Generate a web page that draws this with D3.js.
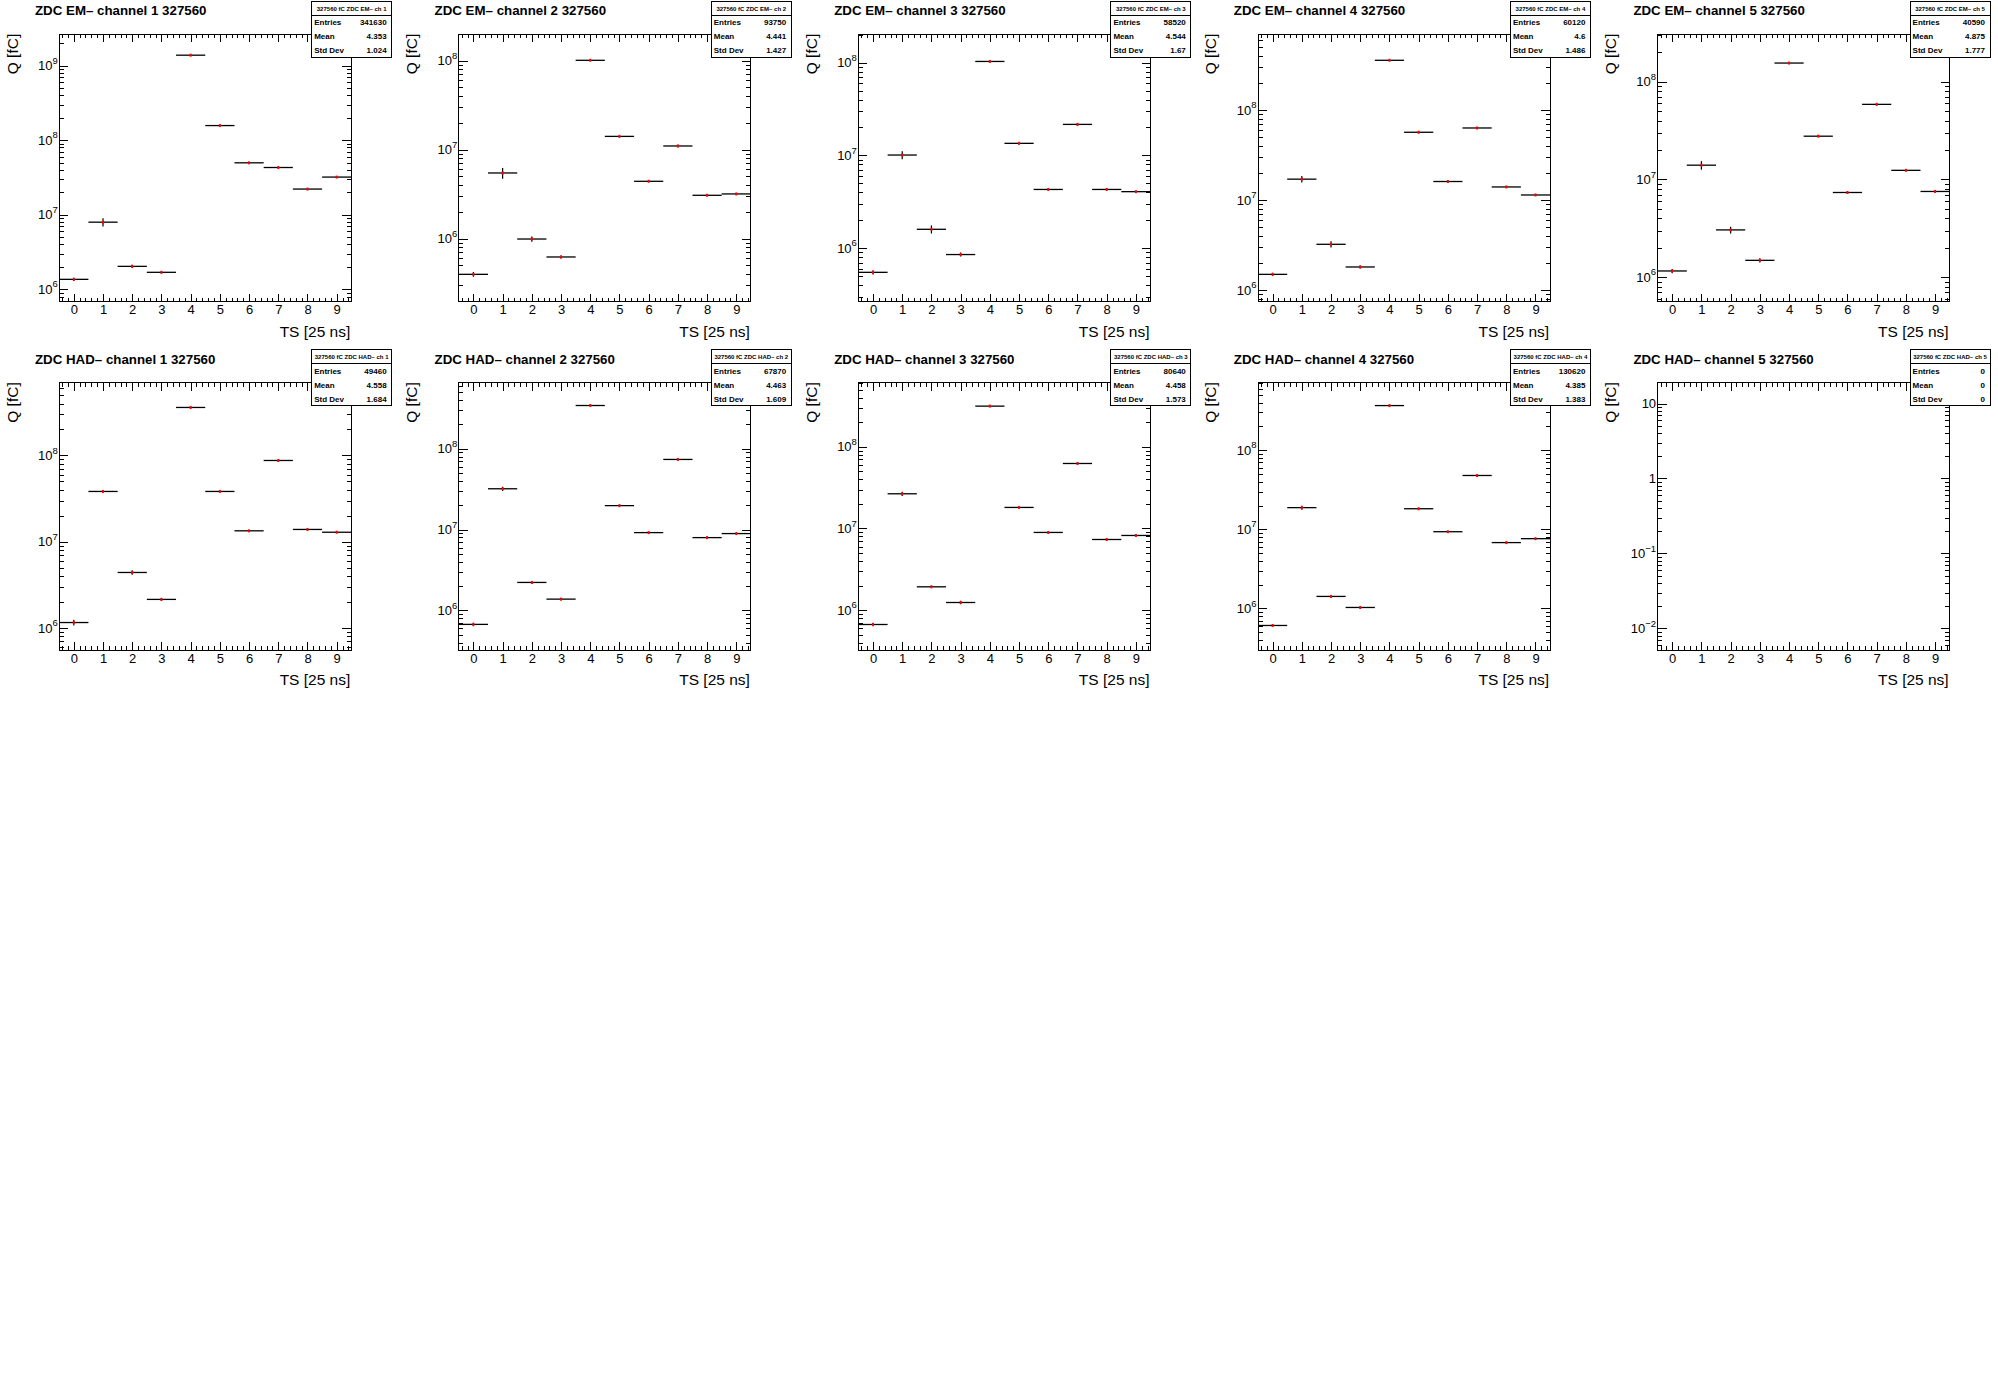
<!DOCTYPE html>
<html>
<head>
<meta charset="utf-8">
<script src="https://cdn.jsdelivr.net/npm/d3@7"></script>
<style>
  body { margin: 0; background: #fff; }
  text { font-family: "Liberation Sans", Arial, Helvetica, sans-serif; }
</style>
</head>
<body>
<div id="canvas"></div>
<script>
// run number and time slices
var run = "327560";
var tsBins = [0, 1, 2, 3, 4, 5, 6, 7, 8, 9];
var xTickLabels = ["0", "1", "2", "3", "4", "5", "6", "7", "8", "9"];

// charge per time slice [fC]
var emCh1 = [1.36e6, 7.95e6, 2.03e6, 1.69e6, 1.38e9, 1.57e8, 4.97e7, 4.3e7, 2.21e7, 3.2e7];
var emCh2 = [3.97e5, 5.47e6, 9.9e5, 6.22e5, 1.01e8, 1.41e7, 4.41e6, 1.1e7, 3.07e6, 3.18e6];
var emCh3 = [5.5e5, 1.01e7, 1.6e6, 8.55e5, 1.03e8, 1.35e7, 4.3e6, 2.16e7, 4.3e6, 4.07e6];
var emCh4 = [1.49e6, 1.71e7, 3.22e6, 1.8e6, 3.6e8, 5.69e7, 1.61e7, 6.35e7, 1.4e7, 1.14e7];
var emCh5 = [1.16e6, 1.4e7, 3.05e6, 1.49e6, 1.55e8, 2.77e7, 7.36e6, 5.86e7, 1.24e7, 7.54e6];
var hadCh1 = [1.16e6, 3.83e7, 4.41e6, 2.15e6, 3.6e8, 3.83e7, 1.34e7, 8.75e7, 1.39e7, 1.29e7];
var hadCh2 = [6.72e5, 3.2e7, 2.22e6, 1.38e6, 3.43e8, 1.98e7, 9.18e6, 7.38e7, 7.96e6, 8.93e6];
var hadCh3 = [6.67e5, 2.66e7, 1.93e6, 1.24e6, 3.15e8, 1.81e7, 8.94e6, 6.25e7, 7.33e6, 8.21e6];
var hadCh4 = [6.1e5, 1.88e7, 1.42e6, 1.03e6, 3.66e8, 1.82e7, 9.33e6, 4.79e7, 6.8e6, 7.62e6];
var hadCh5 = []; // no entries

// error bars (absolute, fC)
var emCh1Err = [7e4, 1.0e6, 1.0e5, 5e4, 1.4e7, 1.6e6, 5e5, 4.3e5, 2.2e5, 3.2e5];
var emCh2Err = [2.4e4, 7.7e5, 7e4, 2.5e4, 1e6, 2.8e5, 9e4, 3.3e5, 6e4, 6e4];
var emCh3Err = [2.8e4, 1e6, 1.6e5, 4.3e4, 1e6, 2.7e5, 9e4, 6.5e5, 9e4, 8e4];
var emCh4Err = [6e4, 1.4e6, 2.6e5, 7e4, 3.6e6, 1.1e6, 3.2e5, 1.3e6, 2.8e5, 2.3e5];
var emCh5Err = [5.8e4, 1.4e6, 2.4e5, 7.5e4, 1.6e6, 5.5e5, 1.5e5, 1.2e6, 2.5e5, 1.5e5];
var hadCh1Err = [9e4, 1.1e6, 2.6e5, 8.6e4, 3.6e6, 7.7e5, 2.7e5, 1.8e6, 2.8e5, 2.6e5];
var hadCh2Err = [3.4e4, 1.9e6, 9e4, 4e4, 3.4e6, 2e5, 1.8e5, 1.5e6, 1.6e5, 1.8e5];
var hadCh3Err = [3.3e4, 1.6e6, 6e4, 6e4, 3.2e6, 1.8e5, 1.8e5, 1.2e6, 1.5e5, 1.6e5];
var hadCh4Err = [1.8e4, 1.1e6, 4.3e4, 3e4, 3.7e6, 1.8e5, 9e4, 4.8e5, 1.4e5, 1.5e5];
var hadCh5Err = [];

// y range of each pad (log axis)
var yLow  = [6.84e5, 1.96e5, 2.66e5, 7.41e5, 5.64e5, 5.56e5, 3.23e5, 3.24e5, 2.98e5, 5.14e-3];
var yHigh = [2.63e9, 1.98e8, 2.02e8, 7.01e8, 3.05e8, 6.95e8, 6.55e8, 6.08e8, 7.1e8, 18.9];

// stats boxes
var statEntries = ["341630", "93750", "58520", "60120", "40590", "49460", "67870", "80640", "130620", "0"];
var statMean    = ["4.353", "4.441", "4.544", "4.6", "4.875", "4.558", "4.463", "4.458", "4.385", "0"];
var statStd     = ["1.024", "1.427", "1.67", "1.486", "1.777", "1.684", "1.609", "1.573", "1.383", "0"];

var detectors = ["EM", "EM", "EM", "EM", "EM", "HAD", "HAD", "HAD", "HAD", "HAD"];
var channels  = [1, 2, 3, 4, 5, 1, 2, 3, 4, 5];
var series    = [emCh1, emCh2, emCh3, emCh4, emCh5, hadCh1, hadCh2, hadCh3, hadCh4, hadCh5];
var errors    = [emCh1Err, emCh2Err, emCh3Err, emCh4Err, emCh5Err, hadCh1Err, hadCh2Err, hadCh3Err, hadCh4Err, hadCh5Err];

var W = 1998, H = 1394;
var nCol = 5, nRow = 4;
var padW = W / nCol, padH = H / nRow;

var svg = d3.select("#canvas").append("svg")
    .attr("width", W).attr("height", H)
    .style("display", "block")
    .style("background", "#fff");

function supLabel(sel, n) {
  if (n === 0) { sel.text("1"); return; }
  if (n === 1) { sel.text("10"); return; }
  sel.append("tspan").text("10");
  sel.append("tspan").attr("font-size", 9.5).attr("dy", -6.5)
     .text(n < 0 ? "\u2212" + (-n) : String(n));
}

function drawPad(i) {
  var col = i % nCol, row = Math.floor(i / nCol);
  var px = col * padW, py = row * padH;
  var fx0 = px + 59.2, fx1 = px + 351.3;
  var fy0 = py + 34.3, fy1 = py + 301.6;

  var g = svg.append("g");

  var x = d3.scaleLinear().domain([-0.5, 9.5]).range([fx0, fx1]);
  var y = d3.scaleLog().domain([yLow[i], yHigh[i]]).range([fy1, fy0]);

  // tick positions
  var xMinor = d3.range(-0.4, 9.5, 0.2).filter(function(v) { return Math.abs(v - Math.round(v)) > 0.01; });
  var lo = Math.log10(yLow[i]), hi = Math.log10(yHigh[i]);
  var yMajor = [], yMinor = [];
  for (var n = Math.floor(lo); n <= Math.ceil(hi); n++) {
    var p = Math.pow(10, n);
    if (p >= yLow[i] && p <= yHigh[i]) yMajor.push(p);
    for (var k = 2; k <= 9; k++) {
      var v = k * p;
      if (v >= yLow[i] && v <= yHigh[i]) yMinor.push(v);
    }
  }

  function clean(a) {
    a.select(".domain").remove();
    a.selectAll("line").attr("stroke", "#000").attr("shape-rendering", "crispEdges");
  }

  // bottom axis with labels
  var xb = g.append("g").attr("transform", "translate(0," + fy1 + ")")
    .call(d3.axisBottom(x).tickValues(tsBins).tickSize(-8).tickPadding(3.3)
      .tickFormat(function(d) { return xTickLabels[d]; }));
  clean(xb);
  xb.selectAll("text").attr("font-size", 13).attr("font-family", "Liberation Sans, Arial, sans-serif").attr("fill", "#000");
  clean(g.append("g").attr("transform", "translate(0," + fy1 + ")")
    .call(d3.axisBottom(x).tickValues(xMinor).tickSize(-4).tickFormat("")));
  // top axis
  clean(g.append("g").attr("transform", "translate(0," + fy0 + ")")
    .call(d3.axisTop(x).tickValues(tsBins).tickSize(-8).tickFormat("")));
  clean(g.append("g").attr("transform", "translate(0," + fy0 + ")")
    .call(d3.axisTop(x).tickValues(xMinor).tickSize(-4).tickFormat("")));
  // left / right axes
  clean(g.append("g").attr("transform", "translate(" + fx0 + ",0)")
    .call(d3.axisLeft(y).tickValues(yMajor).tickSize(-9).tickFormat("")));
  clean(g.append("g").attr("transform", "translate(" + fx0 + ",0)")
    .call(d3.axisLeft(y).tickValues(yMinor).tickSize(-4.5).tickFormat("")));
  clean(g.append("g").attr("transform", "translate(" + fx1 + ",0)")
    .call(d3.axisRight(y).tickValues(yMajor).tickSize(-9).tickFormat("")));
  clean(g.append("g").attr("transform", "translate(" + fx1 + ",0)")
    .call(d3.axisRight(y).tickValues(yMinor).tickSize(-4.5).tickFormat("")));

  // y labels 10^n
  yMajor.forEach(function(v) {
    var t = g.append("text")
      .attr("x", fx0 - 1.5).attr("y", y(v) + 4.6)
      .attr("text-anchor", "end").attr("font-size", 13).attr("fill", "#000");
    supLabel(t, Math.round(Math.log10(v)));
  });

  // frame
  g.append("rect")
    .attr("x", fx0).attr("y", fy0).attr("width", fx1 - fx0).attr("height", fy1 - fy0)
    .attr("fill", "none").attr("stroke", "#000").attr("stroke-width", 1)
    .attr("shape-rendering", "crispEdges");

  // histogram points with errors
  var vals = series[i], errs = errors[i];
  var pts = g.append("g");
  vals.forEach(function(v, b) {
    var cx = x(tsBins[b]);
    pts.append("line")
      .attr("x1", x(tsBins[b] - 0.5)).attr("x2", x(tsBins[b] + 0.5))
      .attr("y1", y(v)).attr("y2", y(v))
      .attr("stroke", "#000").attr("stroke-width", 1.3);
    pts.append("line")
      .attr("x1", cx).attr("x2", cx)
      .attr("y1", y(v + errs[b])).attr("y2", y(v - errs[b]))
      .attr("stroke", "#000").attr("stroke-width", 1.2);
    pts.append("rect")
      .attr("x", cx - 1).attr("y", y(v) - 1.5).attr("width", 2).attr("height", 3)
      .attr("fill", "#ff0000");
  });

  // titles
  g.append("text")
    .attr("x", px + 35).attr("y", py + 15)
    .attr("font-size", 13.3).attr("font-weight", "bold").attr("fill", "#000")
    .text("ZDC " + detectors[i] + "\u2013 channel " + channels[i] + " " + run);

  g.append("text")
    .attr("x", fx1 - 1).attr("y", py + 336.7)
    .attr("text-anchor", "end").attr("font-size", 15.5).attr("fill", "#000")
    .text("TS [25 ns]");

  g.append("text")
    .attr("transform", "translate(" + (px + 17.5) + "," + (fy0 - 0.5) + ") rotate(-90)")
    .attr("text-anchor", "end").attr("font-size", 15.5).attr("fill", "#000")
    .text("Q [fC]");

  // stats box
  var bx0 = px + 0.78 * padW, bx1 = px + 0.98 * padW;
  var by0 = py + 1, by1 = py + 57.3;
  var sb = g.append("g");
  sb.append("rect")
    .attr("x", bx0).attr("y", by0).attr("width", bx1 - bx0).attr("height", by1 - by0)
    .attr("fill", "#fff").attr("stroke", "#000").attr("stroke-width", 1)
    .attr("shape-rendering", "crispEdges");
  sb.append("line")
    .attr("x1", bx0).attr("x2", bx1).attr("y1", py + 15).attr("y2", py + 15)
    .attr("stroke", "#000").attr("stroke-width", 1).attr("shape-rendering", "crispEdges");
  sb.append("text")
    .attr("x", (bx0 + bx1) / 2).attr("y", py + 10.5)
    .attr("text-anchor", "middle").attr("font-size", 6).attr("font-weight", "bold")
    .text(run + " fC ZDC " + detectors[i] + "\u2013 ch " + channels[i]);
  var rows = [["Entries", statEntries[i]], ["Mean", statMean[i]], ["Std Dev", statStd[i]]];
  rows.forEach(function(r, k) {
    var yy = py + 25 + k * 14;
    sb.append("text").attr("x", bx0 + 2.5).attr("y", yy)
      .attr("font-size", 8).attr("font-weight", "bold").text(r[0]);
    sb.append("text").attr("x", bx1 - 5).attr("y", yy)
      .attr("text-anchor", "end").attr("font-size", 8).attr("font-weight", "bold").text(r[1]);
  });
}

for (var i = 0; i < series.length; i++) drawPad(i);
</script>
</body>
</html>
